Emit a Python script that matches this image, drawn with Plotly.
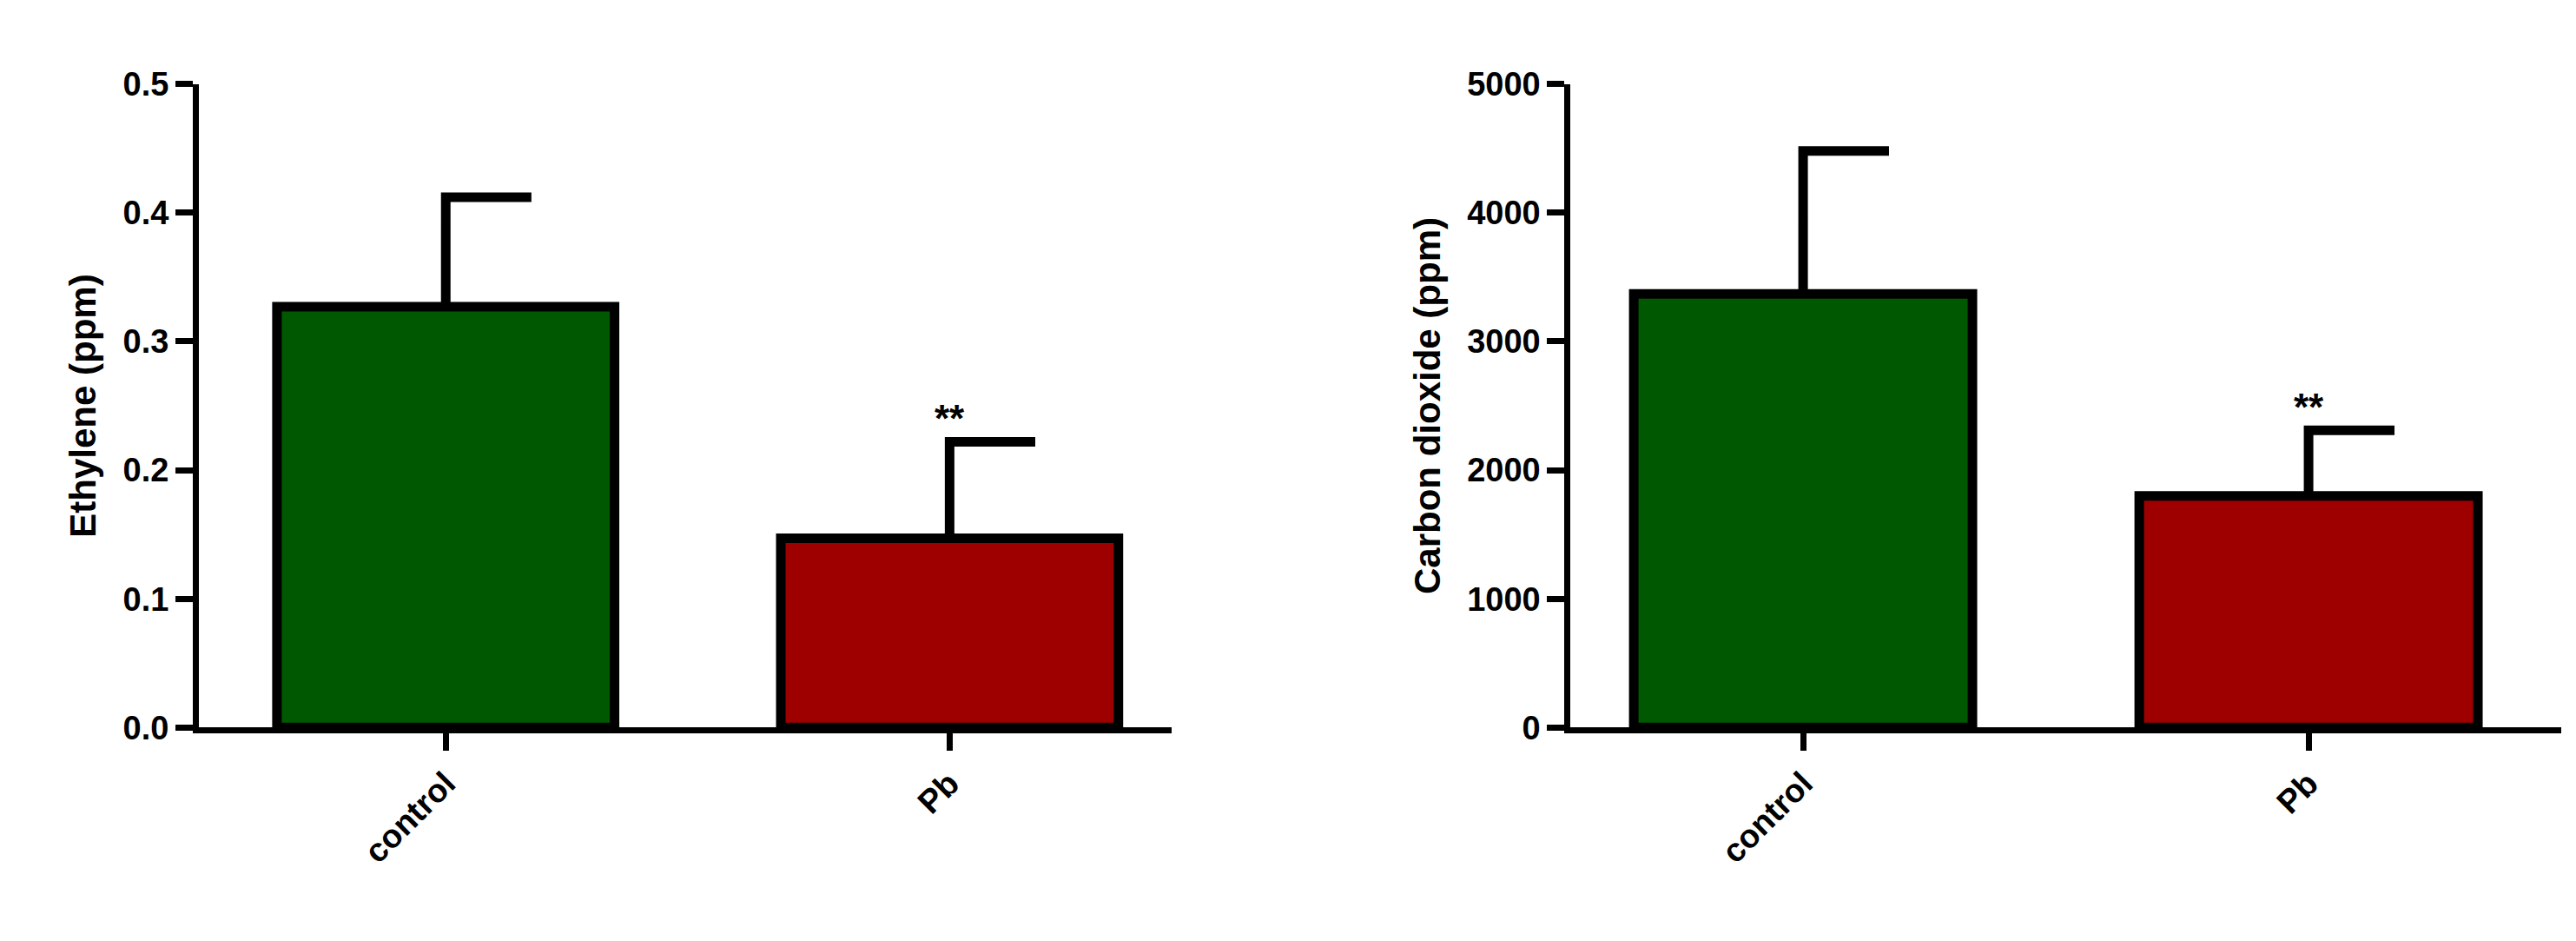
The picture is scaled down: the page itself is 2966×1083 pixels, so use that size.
import plotly.graph_objects as go

groups = ["control", "Pb"]
ethylene = [0.327, 0.147]
ethylene_err = [0.085, 0.075]
co2 = [3370, 1800]
co2_err = [1110, 510]
bar_colors = ["#005800", "#9e0000"]

FONT = dict(family="Liberation Sans, Arial", size=38, color="black")
LW = 11

fig = go.Figure()


def panel(vals, errs, xa, ya, sig_pad):
    xs = list(range(len(groups)))
    fig.add_trace(go.Bar(x=xs, y=vals, width=0.67, marker_color=bar_colors,
                         marker_line=dict(color="black", width=LW),
                         xaxis=xa, yaxis=ya, showlegend=False))
    ex, ey = [], []
    for x, v, e in zip(xs, vals, errs):
        ex += [x, x, x + 0.17, None]
        ey += [v, v + e, v + e, None]
    fig.add_trace(go.Scatter(x=ex, y=ey, mode="lines", xaxis=xa, yaxis=ya,
                             line=dict(color="black", width=LW), showlegend=False,
                             hoverinfo="skip"))
    fig.add_annotation(x=1, y=vals[1] + errs[1] + sig_pad, text="<b>**</b>",
                       showarrow=False, xref=xa, yref=ya, yanchor="bottom",
                       font=dict(family="Liberation Sans, Arial", size=44))


panel(ethylene, ethylene_err, "x", "y", 0.0)
panel(co2, co2_err, "x2", "y2", 0)

ax = dict(showline=True, linewidth=7, linecolor="black", ticks="outside",
          ticklen=20, tickwidth=7, tickcolor="black", showgrid=False,
          zeroline=False, tickfont=dict(family="Liberation Sans, Arial", size=38))
xcommon = dict(ax, tickvals=[0, 1], ticktext=["<b>control</b>", "<b>Pb</b>"],
               tickangle=-45)

fig.update_layout(
    width=2966, height=1083, margin=dict(l=0, r=0, t=0, b=0),
    plot_bgcolor="white", paper_bgcolor="white", font=FONT,
    xaxis=dict(xcommon, domain=[0.0745, 0.452], range=[-0.49, 1.44]),
    xaxis2=dict(xcommon, domain=[0.607, 0.9916], range=[-0.46, 1.5]),
    yaxis=dict(ax, domain=[0.2235, 0.935], range=[0, 0.5], tickvals=[0, 0.1, 0.2, 0.3, 0.4, 0.5],
               ticktext=["<b>0.0</b>", "<b>0.1</b>", "<b>0.2</b>", "<b>0.3</b>", "<b>0.4</b>", "<b>0.5</b>"],
               title=dict(text="<b>Ethylene (ppm)</b>", font=dict(size=42), standoff=20)),
    yaxis2=dict(ax, anchor="x2", domain=[0.2235, 0.935], range=[0, 5000],
                tickvals=[0, 1000, 2000, 3000, 4000, 5000],
                ticktext=["<b>%d</b>" % v for v in [0, 1000, 2000, 3000, 4000, 5000]],
                title=dict(text="<b>Carbon dioxide (ppm)</b>", font=dict(size=42), standoff=20)),
)
fig.update_traces(cliponaxis=False, selector=dict(type="scatter"))

fig.write_html("out.html")
